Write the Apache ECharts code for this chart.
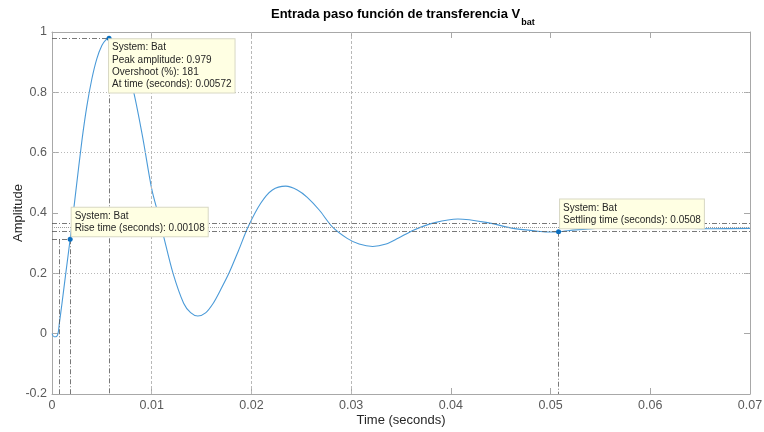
<!DOCTYPE html>
<html>
<head>
<meta charset="utf-8">
<script src="https://cdn.jsdelivr.net/npm/echarts@6/dist/echarts.min.js"></script>
<style>
  html, body { margin: 0; padding: 0; background: #ffffff; }
  #chart { width: 764px; height: 432px; }
</style>
</head>
<body>
<div id="chart"></div>
<script>
// Step response of the battery-voltage transfer function
const timeValues = [
  0, 0.0002, 0.0004, 0.0006, 0.00074, 0.001, 0.0014, 0.00182, 0.0024, 0.003,
  0.0035, 0.004, 0.0045, 0.005, 0.0054, 0.00572, 0.006, 0.0065, 0.007, 0.0075,
  0.0082, 0.0091, 0.01, 0.0107, 0.0112, 0.01214, 0.0132, 0.0139, 0.01462, 0.0154,
  0.01617, 0.0169, 0.01774, 0.0187, 0.01965, 0.02093, 0.0221, 0.02344, 0.0246, 0.0256,
  0.0268, 0.02814, 0.0296, 0.0308, 0.03216, 0.0335, 0.0347, 0.0363, 0.0384,
  0.04071, 0.0437, 0.0461, 0.0484, 0.0496, 0.0508, 0.0525, 0.055, 0.058, 0.062,
  0.066, 0.07
];
const amplitudeValues = [
  0, -0.010, -0.010, 0.000, 0.035, 0.100, 0.205, 0.313, 0.475, 0.640,
  0.755, 0.845, 0.912, 0.955, 0.974, 0.979, 0.976, 0.958, 0.925, 0.880,
  0.800, 0.650, 0.480, 0.390, 0.322, 0.200, 0.101, 0.070, 0.0587, 0.069,
  0.101, 0.145, 0.200, 0.275, 0.353, 0.4325, 0.4765, 0.489, 0.4765, 0.452,
  0.410, 0.353, 0.316, 0.297, 0.289, 0.297, 0.316, 0.344, 0.368,
  0.380, 0.368, 0.350, 0.341, 0.337, 0.338, 0.344, 0.350, 0.353, 0.351,
  0.348, 0.349
];

// Axis ranges and grid lines
const xRange = [0, 0.07, 0.01];
const yRange = [-0.2, 1, 0.2];
const hGridValues = [0.2, 0.6, 0.8];
const vGridValues = [0.01, 0.02, 0.03];

// Response characteristics
const systemName = 'Bat';
const peakTime = 0.00572;
const peakAmplitude = 0.979;
const overshootPct = 181;
const riseStartTime = 0.00074;
const riseEndTime = 0.00182;
const riseEndAmplitude = 0.313;
const riseTime = 0.00108;
const settlingTime = 0.0508;
const settlingAmplitude = 0.338;
const finalValue = 0.352;
const bandUpper = 0.365;
const bandLower = 0.340;

const FONT = 'Liberation Sans, Arial, Helvetica, sans-serif';
const AXIS_GRAY = '#a8a8a8';
const GUIDE = { color: '#555555', width: 0.8, type: [5, 2, 1, 2] };

const curve = timeValues.map((t, i) => [t, amplitudeValues[i]]);

const tipLabel = {
  show: true,
  fontFamily: FONT,
  fontSize: 10,
  lineHeight: 12.3,
  color: '#262626',
  backgroundColor: '#ffffe3',
  borderColor: '#d8d8c4',
  borderWidth: 1,
  padding: [2, 3, 2, 3]
};

const yMin = yRange[0];
const xMax = xRange[1];

function seg(a, b) { return [{ coord: a }, { coord: b }]; }

const chart = echarts.init(document.getElementById('chart'), null, { renderer: 'canvas' });

chart.setOption({
  animation: false,
  backgroundColor: '#ffffff',
  title: {
    text: '{m|Entrada paso función de transferencia V}{s|bat}',
    left: 271,
    top: 8,
    padding: 0,
    textStyle: {
      rich: {
        m: { fontFamily: FONT, fontSize: 13, fontWeight: 'bold', color: '#000000', lineHeight: 15, verticalAlign: 'top' },
        s: { fontFamily: FONT, fontSize: 9, fontWeight: 'bold', color: '#000000', lineHeight: 9, padding: [10, 0, 0, 1], verticalAlign: 'top' }
      }
    }
  },
  grid: { left: 52, right: 14, top: 32, bottom: 38, containLabel: false, outerBoundsMode: 'none' },
  xAxis: [
    {
      type: 'value', min: xRange[0], max: xRange[1], interval: xRange[2],
      name: 'Time (seconds)', nameLocation: 'middle', nameGap: 20, nameMoveOverlap: false,
      nameTextStyle: { fontFamily: FONT, fontSize: 13, color: '#262626' },
      axisLine: { show: true, onZero: false, lineStyle: { color: AXIS_GRAY, width: 1 } },
      axisTick: { show: true, inside: true, length: 6, lineStyle: { color: AXIS_GRAY } },
      axisLabel: { fontFamily: FONT, fontSize: 12.5, color: '#5a5a5a', margin: 5,
        formatter: v => String(+v.toFixed(3)) },
      splitLine: { show: false }
    },
    {
      type: 'value', position: 'top', min: xRange[0], max: xRange[1], interval: xRange[2],
      axisLine: { show: true, onZero: false, lineStyle: { color: AXIS_GRAY, width: 1 } },
      axisTick: { show: true, inside: true, length: 6, lineStyle: { color: AXIS_GRAY } },
      axisLabel: { show: false },
      splitLine: { show: false }
    }
  ],
  yAxis: [
    {
      type: 'value', min: yRange[0], max: yRange[1], interval: yRange[2],
      name: 'Amplitude', nameLocation: 'middle', nameGap: 27, nameMoveOverlap: false,
      nameTextStyle: { fontFamily: FONT, fontSize: 13, color: '#262626' },
      axisLine: { show: true, onZero: false, lineStyle: { color: AXIS_GRAY, width: 1 } },
      axisTick: { show: true, inside: true, length: 6, lineStyle: { color: AXIS_GRAY } },
      axisLabel: { fontFamily: FONT, fontSize: 12.5, color: '#5a5a5a', margin: 5,
        formatter: v => String(+v.toFixed(2)) },
      splitLine: { show: false }
    },
    {
      type: 'value', position: 'right', min: yRange[0], max: yRange[1], interval: yRange[2],
      axisLine: { show: true, onZero: false, lineStyle: { color: AXIS_GRAY, width: 1 } },
      axisTick: { show: true, inside: true, length: 6, lineStyle: { color: AXIS_GRAY } },
      axisLabel: { show: false },
      splitLine: { show: false }
    }
  ],
  series: [
    {
      // grid lines
      type: 'line', data: [], silent: true, z: 1,
      markLine: {
        silent: true, symbol: 'none', label: { show: false },
        data: [
          ...hGridValues.map(v => ({ yAxis: v, lineStyle: { color: '#b8b8b8', width: 1, type: [1, 2] } })),
          ...vGridValues.map(v => ({ xAxis: v, lineStyle: { color: '#b8b8b8', width: 1, type: [3, 2] } }))
        ]
      }
    },
    {
      // characteristic guide lines
      type: 'line', data: [], silent: true, z: 2,
      markLine: {
        silent: true, symbol: 'none', label: { show: false },
        lineStyle: GUIDE,
        data: [
          seg([0, peakAmplitude], [peakTime, peakAmplitude]),
          seg([peakTime, peakAmplitude], [peakTime, yMin]),
          seg([0, riseEndAmplitude], [riseEndTime, riseEndAmplitude]),
          seg([riseStartTime, riseEndAmplitude], [riseStartTime, yMin]),
          seg([riseEndTime, riseEndAmplitude], [riseEndTime, yMin]),
          seg([settlingTime, settlingAmplitude], [settlingTime, yMin]),
          seg([0, bandUpper], [xMax, bandUpper]),
          seg([0, bandLower], [xMax, bandLower]),
          [{ coord: [0, finalValue], lineStyle: { color: '#9a9a9a', width: 1, type: [1, 1] } }, { coord: [xMax, finalValue] }]
        ]
      }
    },
    {
      name: systemName,
      type: 'line',
      data: curve,
      smooth: 0.3,
      showSymbol: false,
      z: 3,
      lineStyle: { color: '#4a9ad8', width: 1.1 },
      markPoint: {
        silent: true,
        symbol: 'circle',
        symbolSize: 5,
        itemStyle: { color: '#0a6fc0' },
        data: [
          {
            coord: [peakTime, peakAmplitude],
            label: Object.assign({}, tipLabel, {
              position: [2.5, 3.5], align: 'left', verticalAlign: 'top',
              formatter: ['System: ' + systemName, 'Peak amplitude: ' + peakAmplitude,
                'Overshoot (%): ' + overshootPct, 'At time (seconds): ' + peakTime].join('\n')
            })
          },
          {
            coord: [riseEndTime, riseEndAmplitude],
            label: Object.assign({}, tipLabel, {
              position: [4, -0.5], align: 'left', verticalAlign: 'bottom',
              formatter: ['System: ' + systemName, 'Rise time (seconds): ' + riseTime].join('\n')
            })
          },
          {
            coord: [settlingTime, settlingAmplitude],
            label: Object.assign({}, tipLabel, {
              position: [4, -1], align: 'left', verticalAlign: 'bottom',
              formatter: ['System: ' + systemName, 'Settling time (seconds): ' + settlingTime].join('\n')
            })
          }
        ]
      }
    }
  ]
});
</script>
</body>
</html>
